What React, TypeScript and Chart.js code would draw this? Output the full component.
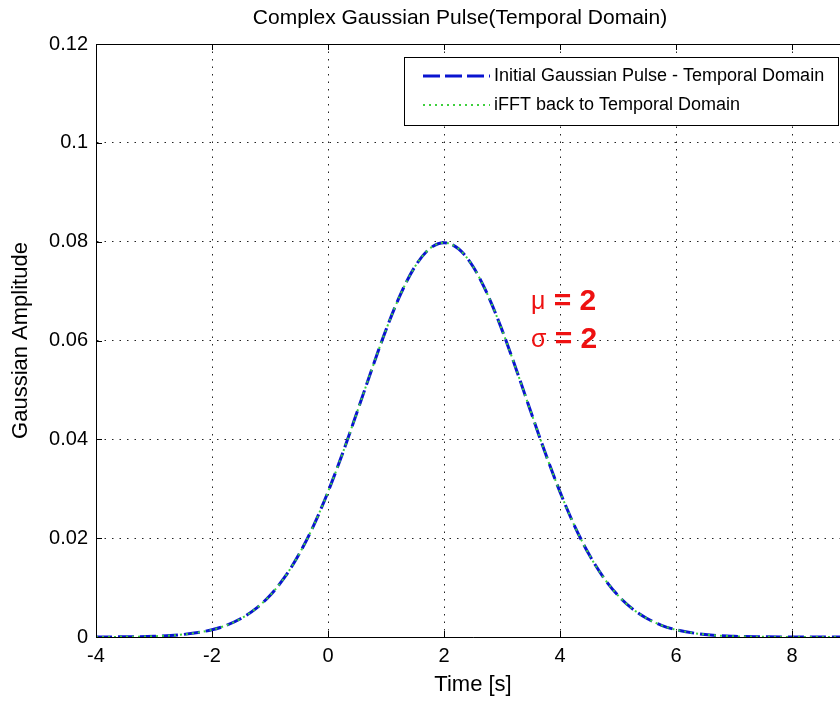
import React, { useEffect, useRef } from "react";
import { Chart, registerables } from "chart.js";

Chart.register(...registerables);

const TITLE = "Complex Gaussian Pulse(Temporal Domain)";
const X_LABEL = "Time [s]";
const Y_LABEL = "Gaussian Amplitude";
const SERIES_NAMES = ["Initial Gaussian Pulse - Temporal Domain", "iFFT back to Temporal Domain"];

const timeValues = [
  -4, -3.5, -3, -2.5, -2, -1.75, -1.5, -1.25, -1, -0.75, -0.5, -0.25, 0, 0.25, 0.5, 0.75, 1, 1.25, 1.5,
  1.75, 2, 2.25, 2.5, 2.75, 3, 3.25, 3.5, 3.75, 4, 4.25, 4.5, 4.75, 5, 5.25, 5.5, 5.75, 6, 6.5, 7, 7.5,
  8, 8.5, 9,
];
const initialPulse = [
  0.00001, 0.00004, 0.00015, 0.00051, 0.00146, 0.00237, 0.00373, 0.00569, 0.00841, 0.01205, 0.01673,
  0.02251, 0.02936, 0.03711, 0.04547, 0.054, 0.06215, 0.06933, 0.07497, 0.07856, 0.0798, 0.07856,
  0.07497, 0.06933, 0.06215, 0.054, 0.04547, 0.03711, 0.02936, 0.02251, 0.01673, 0.01205, 0.00841,
  0.00569, 0.00373, 0.00237, 0.00146, 0.00051, 0.00015, 0.00004, 0, 0, 0,
];
const ifftPulse = [
  0.00001, 0.00004, 0.00015, 0.00051, 0.00146, 0.00237, 0.00373, 0.00569, 0.00841, 0.01205, 0.01673,
  0.02251, 0.02936, 0.03711, 0.04547, 0.054, 0.06215, 0.06933, 0.07497, 0.07856, 0.0798, 0.07856,
  0.07497, 0.06933, 0.06215, 0.054, 0.04547, 0.03711, 0.02936, 0.02251, 0.01673, 0.01205, 0.00841,
  0.00569, 0.00373, 0.00237, 0.00146, 0.00051, 0.00015, 0.00004, 0, 0, 0,
];
const xTickValues = [-4, -2, 0, 2, 4, 6, 8];
const yTickValues = [0, 0.02, 0.04, 0.06, 0.08, 0.1, 0.12];
const X_MIN = -4;
const X_MAX = 9;
const Y_MIN = 0;
const Y_MAX = 0.12;

const annotations = [
  { symbol: "\u03bc", rest: " = 2", x: 3.5, y: 0.0678 },
  { symbol: "\u03c3", rest: " = 2", x: 3.5, y: 0.0601 },
];

const FONT = "'Liberation Sans', Arial, sans-serif";
const BLUE = "#0a14d0";
const GREEN = "#3ecf3e";

const matlabPlugin = {
  id: "matlabDecor",
  afterDatasetsDraw(chart: any) {
    const { ctx, chartArea, scales } = chart;
    const { left, right, top, bottom } = chartArea;
    ctx.save();
    // box
    ctx.strokeStyle = "#000";
    ctx.lineWidth = 1;
    ctx.setLineDash([]);
    ctx.beginPath();
    ctx.moveTo(left, top + 0.5);
    ctx.lineTo(right, top + 0.5);
    ctx.moveTo(right - 0.5, top);
    ctx.lineTo(right - 0.5, bottom);
    ctx.stroke();
    // inward tick marks
    const tl = 6;
    ctx.beginPath();
    xTickValues.forEach((v) => {
      const px = Math.round(scales.x.getPixelForValue(v)) + 0.5;
      ctx.moveTo(px, bottom);
      ctx.lineTo(px, bottom - tl);
      ctx.moveTo(px, top);
      ctx.lineTo(px, top + tl);
    });
    yTickValues.forEach((v) => {
      const py = Math.round(scales.y.getPixelForValue(v)) + 0.5;
      ctx.moveTo(left, py);
      ctx.lineTo(left + tl, py);
      ctx.moveTo(right, py);
      ctx.lineTo(right - tl, py);
    });
    ctx.stroke();

    // annotations
    annotations.forEach((a) => {
      const px = scales.x.getPixelForValue(a.x);
      const py = scales.y.getPixelForValue(a.y);
      ctx.fillStyle = "#ee1111";
      ctx.textBaseline = "middle";
      ctx.textAlign = "left";
      ctx.font = `25px ${FONT}`;
      ctx.fillText(a.symbol, px, py);
      const w = ctx.measureText(a.symbol).width;
      ctx.font = `bold 30px ${FONT}`;
      ctx.fillText(a.rest, px + w, py);
    });

    // legend box
    const lx = 404;
    const ly = top + 13;
    const lw = right - 12 - lx;
    const rowH = 29;
    const lh = rowH * 2 + 10;
    ctx.fillStyle = "#fff";
    ctx.fillRect(lx, ly, lw, lh);
    ctx.strokeStyle = "#000";
    ctx.lineWidth = 1;
    ctx.strokeRect(lx + 0.5, ly + 0.5, lw, lh);
    const styles = [
      { color: BLUE, dash: [17, 5], width: 3 },
      { color: GREEN, dash: [2, 4], width: 2 },
    ];
    SERIES_NAMES.forEach((name, i) => {
      const cy = ly + 19 + i * rowH;
      const s = styles[i];
      ctx.strokeStyle = s.color;
      ctx.lineWidth = s.width;
      ctx.setLineDash(s.dash);
      ctx.beginPath();
      ctx.moveTo(lx + 19, cy);
      ctx.lineTo(lx + 86, cy);
      ctx.stroke();
      ctx.setLineDash([]);
      ctx.fillStyle = "#000";
      ctx.font = `18px ${FONT}`;
      ctx.textAlign = "left";
      ctx.textBaseline = "middle";
      ctx.fillText(name, lx + 90, cy);
    });

    // title
    ctx.fillStyle = "#000";
    ctx.font = `21px ${FONT}`;
    ctx.textAlign = "center";
    ctx.textBaseline = "middle";
    ctx.fillText(TITLE, 460, 18);
    ctx.restore();
  },
};

export default function App() {
  const ref = useRef<HTMLCanvasElement | null>(null);
  useEffect(() => {
    if (!ref.current) return;
    const points = (ys: number[]) => timeValues.map((x, i) => ({ x, y: ys[i] }));
    const chart = new Chart(ref.current, {
      type: "line",
      data: {
        datasets: [
          {
            label: SERIES_NAMES[0],
            data: points(initialPulse),
            borderColor: BLUE,
            borderWidth: 3,
            borderDash: [16, 6],
            pointRadius: 0,
            cubicInterpolationMode: "monotone",
            order: 1,
          },
          {
            label: SERIES_NAMES[1],
            data: points(ifftPulse),
            borderColor: GREEN,
            borderWidth: 2,
            borderDash: [2, 4],
            pointRadius: 0,
            cubicInterpolationMode: "monotone",
            order: 0,
          },
        ],
      },
      options: {
        responsive: false,
        animation: false,
        devicePixelRatio: 1,
        layout: { padding: { top: 44, right: 30, bottom: 0, left: 0 } },
        plugins: { legend: { display: false }, tooltip: { enabled: false }, title: { display: false } },
        scales: {
          x: {
            type: "linear",
            min: X_MIN,
            max: X_MAX,
            afterBuildTicks: (s: any) => {
              s.ticks = xTickValues.map((v) => ({ value: v }));
            },
            afterFit: (s: any) => {
              s.height = 65;
            },
            ticks: {
              color: "#000",
              font: { family: FONT, size: 20 },
              padding: 7,
              maxRotation: 0,
              autoSkip: false,
              callback: (v: any) => String(v),
            },
            grid: { color: "#222", lineWidth: 1, drawTicks: false },
            border: { display: true, color: "#000", width: 1, dash: [1.5, 6] },
            title: {
              display: true,
              text: X_LABEL,
              color: "#000",
              font: { family: FONT, size: 22 },
              padding: { top: 0, bottom: 4 },
            },
          },
          y: {
            type: "linear",
            min: Y_MIN,
            max: Y_MAX,
            afterBuildTicks: (s: any) => {
              s.ticks = yTickValues.map((v) => ({ value: v }));
            },
            afterFit: (s: any) => {
              s.width = 96;
            },
            ticks: {
              color: "#000",
              font: { family: FONT, size: 20 },
              padding: 8,
              autoSkip: false,
              callback: (v: any) => String(Number(Number(v).toFixed(2))),
            },
            grid: { color: "#222", lineWidth: 1, drawTicks: false },
            border: { display: true, color: "#000", width: 1, dash: [1.5, 6] },
            title: {
              display: true,
              text: Y_LABEL,
              color: "#000",
              font: { family: FONT, size: 22 },
              padding: { top: 8, bottom: 0 },
            },
          },
        },
      },
      plugins: [matlabPlugin],
    });
    return () => chart.destroy();
  }, []);
  return (
    <div style={{ position: "fixed", left: 0, top: 0, width: 840, height: 702, overflow: "hidden", background: "#fff" }}>
      <canvas ref={ref} width={880} height={702} style={{ display: "block", width: 880, height: 702 }} />
    </div>
  );
}
